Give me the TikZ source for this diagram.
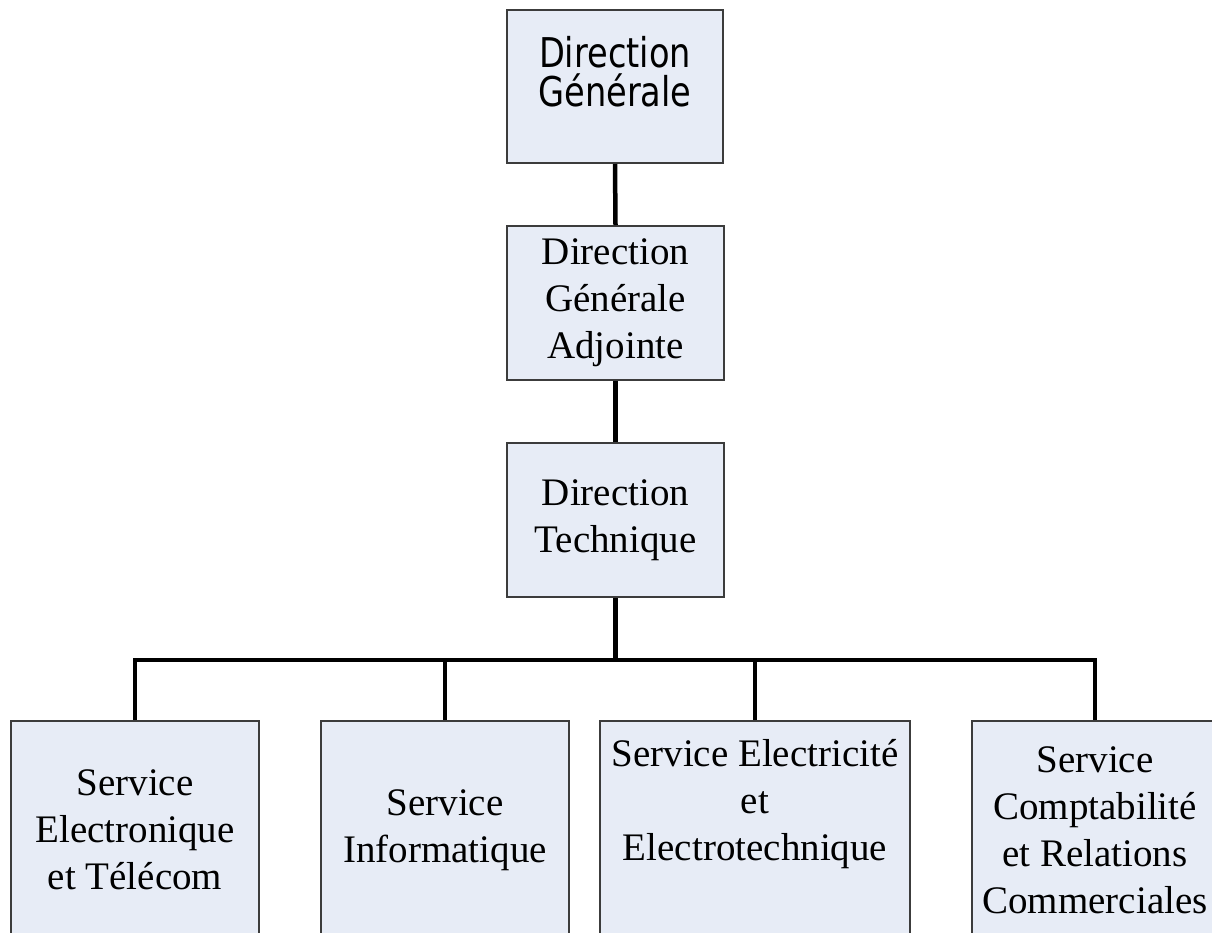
\documentclass[tikz,border=0pt]{standalone}
\usepackage{fontspec}
\setmainfont{Liberation Serif}
\newfontfamily\boxsans[FakeStretch=0.82]{DejaVu Sans}
\definecolor{boxfill}{RGB}{231,236,246}
\definecolor{boxline}{RGB}{60,60,60}
\begin{document}
\begin{tikzpicture}[x=1pt,y=-1pt,
  orgbox/.style={draw=boxline, line width=2pt, fill=boxfill, align=center,
    inner sep=0pt, font=\fontsize{39}{47}\selectfont},
  headbox/.style={orgbox, font=\boxsans\fontsize{41}{39}\selectfont, text depth=30pt},
  dirbox/.style={orgbox, minimum width=217pt, minimum height=154pt},
  servbox/.style={orgbox, minimum height=218pt},
  link/.style={line width=4.5pt, black}]
\useasboundingbox (0,0) rectangle (1212,932);
\clip (0,0) rectangle (1212,932);

% management chain
\node[headbox, minimum width=216pt, minimum height=153pt] (dg) at (615,86.5) {Direction\\Générale};
\node[dirbox] (dga) at (615.5,303) {Direction\\Générale\\Adjointe};
\node[dirbox] (dt) at (615.5,520) {Direction\\Technique};

% services
\node[servbox, minimum width=248pt] (s1) at (135,830) {Service\\Electronique\\et Télécom};
\node[servbox, minimum width=248pt] (s2) at (445,830) {Service\\Informatique};
\node[servbox, minimum width=310pt] (s3) at (755,830) {Service Electricité\\et\\Electrotechnique\\\strut};
\node[servbox, minimum width=246pt] (s4) at (1095,830) {Service\\Comptabilité\\et Relations\\Commerciales};

% connectors
\path (dt.south) ++(0,62) coordinate (bus);
\draw[link] (dg.south) -- (dga.north);
\draw[link] (dga.south) -- (dt.north);
\draw[link] (dt.south) -- (bus);
\draw[link] (bus) -| (s1.north);
\draw[link] (bus) -| (s2.north);
\draw[link] (bus) -| (s3.north);
\draw[link] (bus) -| (s4.north);
\end{tikzpicture}
\end{document}
